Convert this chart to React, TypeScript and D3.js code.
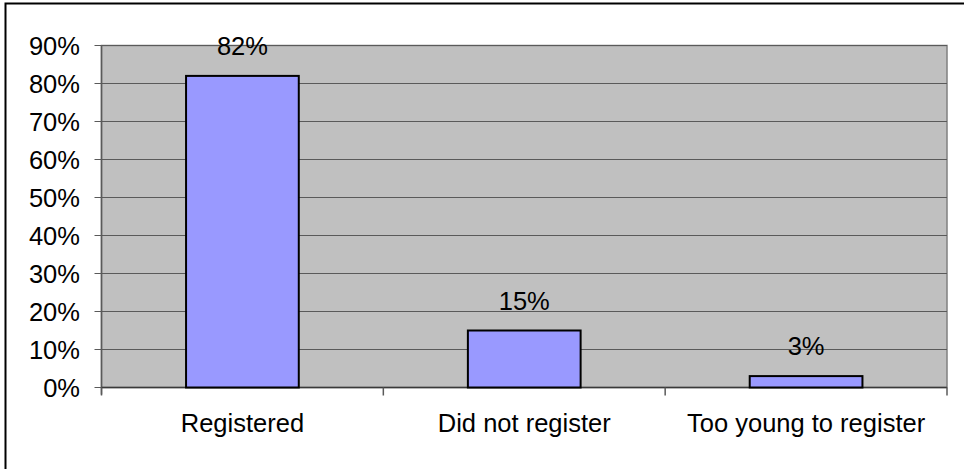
import React from "react";
import * as d3 from "d3";

const categories = ["Registered", "Did not register", "Too young to register"];
const values = [82, 15, 3];
const yTicks = [0, 10, 20, 30, 40, 50, 60, 70, 80, 90];

const W = 964;
const H = 469;
const plot = { left: 101.5, top: 45.5, right: 947, bottom: 387.5 };
const FONT = "'Liberation Sans', Arial, sans-serif";
const FS = 25.5;

export default function App() {
  const x = d3
    .scaleBand<string>()
    .domain(categories)
    .range([plot.left, plot.right])
    .paddingInner(0.6)
    .paddingOuter(0.3);
  const y = d3.scaleLinear().domain([0, 90]).range([plot.bottom, plot.top]);
  const step = (plot.right - plot.left) / categories.length;
  const catEdges = d3.range(categories.length + 1).map((i) => plot.left + i * step);

  return (
    <svg
      width={W}
      height={H}
      style={{ position: "absolute", left: 0, top: 0, background: "#fff" }}
      fontFamily={FONT}
    >
      {/* chart frame */}
      <rect x={5.5} y={3.5} width={1200} height={1200} fill="none" stroke="#000" strokeWidth={2} />

      {/* plot area */}
      <rect
        x={plot.left}
        y={plot.top}
        width={plot.right - plot.left}
        height={plot.bottom - plot.top}
        fill="#C0C0C0"
        stroke="#808080"
        strokeWidth={1.5}
      />

      {/* gridlines and value axis */}
      {yTicks.map((t) => (
        <g key={t}>
          {t > 0 && (
            <line x1={plot.left} x2={plot.right} y1={y(t)} y2={y(t)} stroke="#5a5a5a" strokeWidth={1} />
          )}
          <line x1={plot.left - 7} x2={plot.left} y1={y(t)} y2={y(t)} stroke="#5a5a5a" strokeWidth={1} />
          <text
            x={80}
            y={y(t)}
            textAnchor="end"
            dominantBaseline="central"
            fontSize={FS}
            fill="#000"
          >
            {t}%
          </text>
        </g>
      ))}
      <line x1={plot.left} x2={plot.left} y1={plot.top} y2={plot.bottom + 7} stroke="#5a5a5a" strokeWidth={1.5} />

      {/* category axis */}
      <line x1={plot.left} x2={plot.right} y1={plot.bottom} y2={plot.bottom} stroke="#3a3a3a" strokeWidth={1.5} />
      {catEdges.map((cx, i) => (
        <line key={i} x1={cx} x2={cx} y1={plot.bottom} y2={plot.bottom + 8} stroke="#5a5a5a" strokeWidth={1.5} />
      ))}

      {/* bars */}
      {categories.map((c, i) => (
        <g key={c}>
          <rect
            x={x(c)}
            y={y(values[i])}
            width={x.bandwidth()}
            height={plot.bottom - y(values[i])}
            fill="#9999FF"
            stroke="#000"
            strokeWidth={2}
          />
          <text
            x={(x(c) as number) + x.bandwidth() / 2}
            y={y(values[i]) - 21}
            textAnchor="middle"
            fontSize={FS}
            fill="#000"
          >
            {values[i]}%
          </text>
          <text
            x={(x(c) as number) + x.bandwidth() / 2}
            y={432}
            textAnchor="middle"
            fontSize={FS}
            fill="#000"
          >
            {c}
          </text>
        </g>
      ))}
    </svg>
  );
}
